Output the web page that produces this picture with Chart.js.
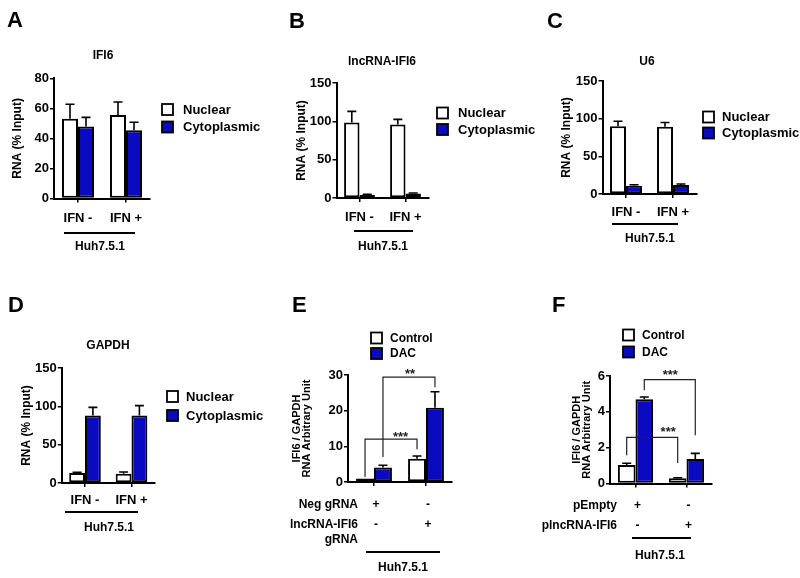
<!DOCTYPE html>
<html>
<head>
<meta charset="utf-8">
<script src="https://cdn.jsdelivr.net/npm/chart.js@4.4.0/dist/chart.umd.min.js"></script>
<style>
html,body{margin:0;padding:0;background:#fff;}
#wrap{position:relative;width:800px;height:578px;overflow:hidden;background:#fff;}
#wrap canvas{position:absolute;left:0;top:0;}
</style>
</head>
<body>
<div id="wrap">
<canvas id="cA" width="800" height="578"></canvas>
<canvas id="cB" width="800" height="578"></canvas>
<canvas id="cC" width="800" height="578"></canvas>
<canvas id="cD" width="800" height="578"></canvas>
<canvas id="cE" width="800" height="578"></canvas>
<canvas id="cF" width="800" height="578"></canvas>
</div>
<script>
// ---------------- DATA ----------------
const ifnGroups = ['IFN -', 'IFN +'];
const fractionSeries = ['Nuclear', 'Cytoplasmic'];
const treatSeries = ['Control', 'DAC'];
const gRNAGroups = ['Neg gRNA', 'lncRNA-IFI6 gRNA'];
const plasmidGroups = ['pEmpty', 'plncRNA-IFI6'];

// A: IFI6
const ifi6YTicks = [0, 20, 40, 60, 80];
const ifi6Nuclear = [53, 55.5];
const ifi6NuclearSem = [9.7, 8.7];
const ifi6Cyto = [48, 45.5];
const ifi6CytoSem = [6, 5.2];

// B: lncRNA-IFI6
const lncYTicks = [0, 50, 100, 150];
const lncNuclear = [98.5, 96];
const lncNuclearSem = [14.5, 6.5];
const lncCyto = [4, 6];
const lncCytoSem = [0.8, 0.6];

// C: U6
const u6YTicks = [0, 50, 100, 150];
const u6Nuclear = [90, 89.2];
const u6NuclearSem = [6.6, 5.8];
const u6Cyto = [11, 12];
const u6CytoSem = [1.3, 1.2];

// D: GAPDH
const gapdhYTicks = [0, 50, 100, 150];
const gapdhNuclear = [13, 12.2];
const gapdhNuclearSem = [0.9, 2.1];
const gapdhCyto = [88, 88];
const gapdhCytoSem = [10.7, 12.9];

// E: IFI6/GAPDH, gRNA
const eYTicks = [0, 10, 20, 30];
const eControl = [1.0, 6.5];
const eControlSem = [0, 0.8];
const eDac = [4.1, 20.8];
const eDacSem = [0.6, 4.5];
const eNegMarks = ['+', '-'];
const eLncMarks = ['-', '+'];
// brackets: [datasetIndex, groupIndex] ends, horizontal level, leg ends (data units)
const eBrackets = [
  {a: [0, 0], b: [0, 1], top: 12.0, aEnd: 1.4, bEnd: 9.2, text: '***'},
  {a: [1, 0], b: [1, 1], top: 29.4, aEnd: 7.0, bEnd: 26.6, text: '**'}
];

// F: IFI6/GAPDH, plasmid
const fYTicks = [0, 2, 4, 6];
const fControl = [1.03, 0.29];
const fControlSem = [0.1, 0.03];
const fDac = [4.7, 1.37];
const fDacSem = [0.13, 0.31];
const fEmptyMarks = ['+', '-'];
const fLncMarks = ['-', '+'];
const fBrackets = [
  {a: [1, 0], b: [1, 1], top: 5.8, aEnd: 5.2, bEnd: 2.7, text: '***'},
  {a: [0, 0], b: [0, 1], top: 2.58, aEnd: 1.58, bEnd: 1.14, text: '***'}
];

// ---------------- STYLE ----------------
const FONT = "'Liberation Sans', Arial, Helvetica, sans-serif";
const BLUE = '#0a0ac0';
const WHITE = '#ffffff';

const panels = [
  { id: 'cA', labels: ifnGroups, names: fractionSeries, values: [ifi6Nuclear, ifi6Cyto], errs: [ifi6NuclearSem, ifi6CytoSem],
    yTicks: ifi6YTicks, plot: {left: 54, right: 150, top: 78.3, bottom: 198.5}, cp: 0.667,
    yTitle: 'RNA (% Input)', yTitleX: 18, yTitleSize: 12, yTitleLH: 1.2, showX: true, xLabelCenter: 218,
    letter: {t: 'A', x: 7, y: 27}, title: {t: 'IFI6', x: 103, y: 56},
    legend: {x: 162, ys: [109.5, 127], textX: 183, size: 13},
    group: {x1: 64, x2: 135, y: 233, tx: 100, ty: 247} },
  { id: 'cB', labels: ifnGroups, names: fractionSeries, values: [lncNuclear, lncCyto], errs: [lncNuclearSem, lncCytoSem],
    yTicks: lncYTicks, plot: {left: 336.5, right: 428.5, top: 83, bottom: 198}, cp: 0.67,
    yTitle: 'RNA (% Input)', yTitleX: 302, yTitleSize: 12, yTitleLH: 1.2, showX: true, xLabelCenter: 217,
    letter: {t: 'B', x: 289, y: 28}, title: {t: 'lncRNA-IFI6', x: 382, y: 62},
    legend: {x: 437, ys: [113, 129.5], textX: 458, size: 13},
    group: {x1: 354, x2: 413, y: 231, tx: 383, ty: 247} },
  { id: 'cC', labels: ifnGroups, names: fractionSeries, values: [u6Nuclear, u6Cyto], errs: [u6NuclearSem, u6CytoSem],
    yTicks: u6YTicks, plot: {left: 602.5, right: 696.5, top: 81, bottom: 194}, cp: 0.68,
    yTitle: 'RNA (% Input)', yTitleX: 567, yTitleSize: 12, yTitleLH: 1.2, showX: true, xLabelCenter: 212,
    letter: {t: 'C', x: 547, y: 28}, title: {t: 'U6', x: 647, y: 62},
    legend: {x: 703, ys: [117, 133], textX: 722, size: 13},
    group: {x1: 612, x2: 678, y: 224, tx: 650, ty: 239} },
  { id: 'cD', labels: ifnGroups, names: fractionSeries, values: [gapdhNuclear, gapdhCyto], errs: [gapdhNuclearSem, gapdhCytoSem],
    yTicks: gapdhYTicks, plot: {left: 61.75, right: 154.75, top: 368, bottom: 483}, cp: 0.68,
    yTitle: 'RNA (% Input)', yTitleX: 27, yTitleSize: 12, yTitleLH: 1.2, showX: true, xLabelCenter: 500,
    letter: {t: 'D', x: 8, y: 312}, title: {t: 'GAPDH', x: 108, y: 346},
    legend: {x: 167, ys: [396.5, 415.5], textX: 186, size: 13},
    group: {x1: 65, x2: 138, y: 512, tx: 109, ty: 528} },
  { id: 'cE', labels: gRNAGroups, names: treatSeries, values: [eControl, eDac], errs: [eControlSem, eDacSem],
    yTicks: eYTicks, plot: {left: 348, right: 452, top: 375, bottom: 482}, cp: 0.69,
    yTitle: ['IFI6 / GAPDH', 'RNA Arbitrary Unit'], yTitleX: 297, yTitleSize: 11, yTitleLH: 0.95, showX: false,
    letter: {t: 'E', x: 292, y: 312}, title: null,
    legend: {x: 371, ys: [338, 353.5], textX: 390, size: 12},
    group: {x1: 366, x2: 440, y: 552, tx: 403, ty: 568},
    rows: [{label: ['Neg gRNA'], marks: eNegMarks, ys: [505]}, {label: ['lncRNA-IFI6', 'gRNA'], marks: eLncMarks, ys: [525, 540]}],
    rowRight: 358, brackets: eBrackets, bracketDx: [9.5, 1], bracketDy: [6, 7] },
  { id: 'cF', labels: plasmidGroups, names: treatSeries, values: [fControl, fDac], errs: [fControlSem, fDacSem],
    yTicks: fYTicks, plot: {left: 610, right: 712, top: 376, bottom: 483.5}, cp: 0.69,
    yTitle: ['IFI6 / GAPDH', 'RNA Arbitrary Unit'], yTitleX: 577, yTitleSize: 11, yTitleLH: 0.95, showX: false,
    letter: {t: 'F', x: 552, y: 312}, title: null,
    legend: {x: 623, ys: [335, 352], textX: 642, size: 12},
    group: {x1: 632, x2: 691, y: 538, tx: 660, ty: 556},
    rows: [{label: ['pEmpty'], marks: fEmptyMarks, ys: [506]}, {label: ['plncRNA-IFI6'], marks: fLncMarks, ys: [526]}],
    rowRight: 617, brackets: fBrackets, bracketDx: [0.5, 16], bracketDy: [8, 9] }
];

// ---------------- PLUGINS ----------------
const errorBars = {
  id: 'errorBars',
  afterDatasetsDraw(chart) {
    const ctx = chart.ctx, y = chart.scales.y;
    chart.data.datasets.forEach((ds, di) => {
      const meta = chart.getDatasetMeta(di);
      meta.data.forEach((bar, i) => {
        const e = ds.sem[i];
        if (!e) return;
        const top = y.getPixelForValue(ds.data[i] + e);
        ctx.save();
        ctx.strokeStyle = '#000';
        ctx.lineWidth = 1.6;
        ctx.beginPath();
        ctx.moveTo(bar.x, bar.y);
        ctx.lineTo(bar.x, top);
        ctx.moveTo(bar.x - 4.5, top);
        ctx.lineTo(bar.x + 4.5, top);
        ctx.stroke();
        ctx.restore();
      });
    });
  }
};

function annotations(cfg) {
  return {
    id: 'annot_' + cfg.id,
    afterDraw(chart) {
      const ctx = chart.ctx;
      const xs = chart.scales.x, ys = chart.scales.y;
      ctx.save();
      ctx.fillStyle = '#000';
      ctx.strokeStyle = '#000';
      // panel letter
      ctx.font = `bold 22px ${FONT}`;
      ctx.textAlign = 'left';
      ctx.textBaseline = 'alphabetic';
      ctx.fillText(cfg.letter.t, cfg.letter.x, cfg.letter.y);
      // title
      if (cfg.title) {
        ctx.font = `bold 12px ${FONT}`;
        ctx.textAlign = 'center';
        ctx.textBaseline = 'middle';
        ctx.fillText(cfg.title.t, cfg.title.x, cfg.title.y);
      }
      // legend
      const L = cfg.legend;
      chart.data.datasets.forEach((ds, i) => {
        const cy = L.ys[i];
        ctx.fillStyle = ds.backgroundColor;
        ctx.fillRect(L.x, cy - 5.5, 11, 11);
        ctx.lineWidth = 1.8;
        ctx.strokeStyle = '#000';
        ctx.strokeRect(L.x, cy - 5.5, 11, 11);
        ctx.fillStyle = '#000';
        ctx.font = `bold ${L.size}px ${FONT}`;
        ctx.textAlign = 'left';
        ctx.textBaseline = 'middle';
        ctx.fillText(ds.label, L.textX, cy + 0.5);
      });
      // group line + cell line
      const G = cfg.group;
      ctx.lineWidth = 1.8;
      ctx.beginPath();
      ctx.moveTo(G.x1, G.y);
      ctx.lineTo(G.x2, G.y);
      ctx.stroke();
      ctx.font = `bold 12px ${FONT}`;
      ctx.textAlign = 'center';
      ctx.textBaseline = 'middle';
      ctx.fillText('Huh7.5.1', G.tx, G.ty);
      // condition rows
      if (cfg.rows) {
        ctx.font = `bold 12px ${FONT}`;
        cfg.rows.forEach(r => {
          ctx.textAlign = 'right';
          r.label.forEach((t, k) => ctx.fillText(t, cfg.rowRight, r.ys[k]));
          ctx.textAlign = 'center';
          r.marks.forEach((m, k) => ctx.fillText(m, xs.getPixelForValue(k) + 2, r.ys[0]));
        });
      }
      // significance brackets
      if (cfg.brackets) {
        cfg.brackets.forEach((b, k) => {
          const ea = chart.getDatasetMeta(b.a[0]).data[b.a[1]];
          const eb = chart.getDatasetMeta(b.b[0]).data[b.b[1]];
          const yt = ys.getPixelForValue(b.top);
          ctx.strokeStyle = '#222';
          ctx.lineWidth = 1.2;
          ctx.beginPath();
          ctx.moveTo(ea.x, ys.getPixelForValue(b.aEnd));
          ctx.lineTo(ea.x, yt);
          ctx.lineTo(eb.x, yt);
          ctx.lineTo(eb.x, ys.getPixelForValue(b.bEnd));
          ctx.stroke();
          ctx.font = `bold 13px ${FONT}`;
          ctx.textAlign = 'center';
          ctx.textBaseline = 'alphabetic';
          ctx.fillStyle = '#222';
          const cx = (ea.x + eb.x) / 2 + cfg.bracketDx[k];
          const starCenter = yt - cfg.bracketDy[k];
          ctx.fillText(b.text, cx, starCenter + 7.5);
        });
      }
      ctx.restore();
    }
  };
}

// ---------------- BUILD ----------------
Chart.defaults.font.family = FONT;
Chart.defaults.color = '#000';

function makePanel(cfg) {
  const p = cfg.plot;
  const yFontSize = cfg.yTitleSize;
  const lh = yFontSize * cfg.yTitleLH;
  const leftPad = cfg.yTitleX - lh / 2;
  const yW = p.left - leftPad;
  const xH = 40;
  const xFont = 13;
  const xTickLen = 4;
  const xPad = cfg.showX ? (cfg.xLabelCenter - p.bottom - xTickLen - xFont * 1.2 / 2) : 0;
  const yTicks = cfg.yTicks;
  const fills = [WHITE, BLUE];

  new Chart(document.getElementById(cfg.id), {
    type: 'bar',
    data: {
      labels: cfg.labels,
      datasets: cfg.names.map((n, i) => ({
        label: n,
        data: cfg.values[i],
        sem: cfg.errs[i],
        backgroundColor: fills[i],
        borderColor: '#000',
        borderWidth: 2,
        borderSkipped: false,
        categoryPercentage: cfg.cp,
        barPercentage: 1.0
      }))
    },
    options: {
      responsive: false,
      animation: false,
      devicePixelRatio: 1,
      events: [],
      layout: {
        autoPadding: false,
        padding: {left: leftPad, right: 800 - p.right, top: p.top, bottom: 578 - p.bottom - xH}
      },
      plugins: {legend: {display: false}, tooltip: {enabled: false}, title: {display: false}},
      scales: {
        x: {
          offset: true,
          grid: {display: true, drawOnChartArea: false, drawTicks: true, tickLength: xTickLen, color: '#000', lineWidth: 1.5, offset: false},
          border: {display: true, color: '#000', width: 2},
          ticks: {display: cfg.showX, color: '#000', font: {family: FONT, size: xFont, weight: 'bold'}, padding: xPad, maxRotation: 0, autoSkip: false},
          afterFit: s => { s.height = xH; }
        },
        y: {
          min: yTicks[0],
          max: yTicks[yTicks.length - 1],
          grid: {display: true, drawOnChartArea: false, drawTicks: true, tickLength: 4, color: '#000', lineWidth: 1.5},
          border: {display: true, color: '#000', width: 2},
          ticks: {stepSize: yTicks[1] - yTicks[0], color: '#000', font: {family: FONT, size: 13, weight: 'bold'}, padding: 1},
          title: {display: true, text: cfg.yTitle, color: '#000', font: {family: FONT, size: yFontSize, weight: 'bold', lineHeight: cfg.yTitleLH}, padding: {top: 0, bottom: 0}},
          afterFit: s => { s.width = yW; }
        }
      }
    },
    plugins: [errorBars, annotations(cfg)]
  });
}

panels.forEach(makePanel);
</script>
</body>
</html>
